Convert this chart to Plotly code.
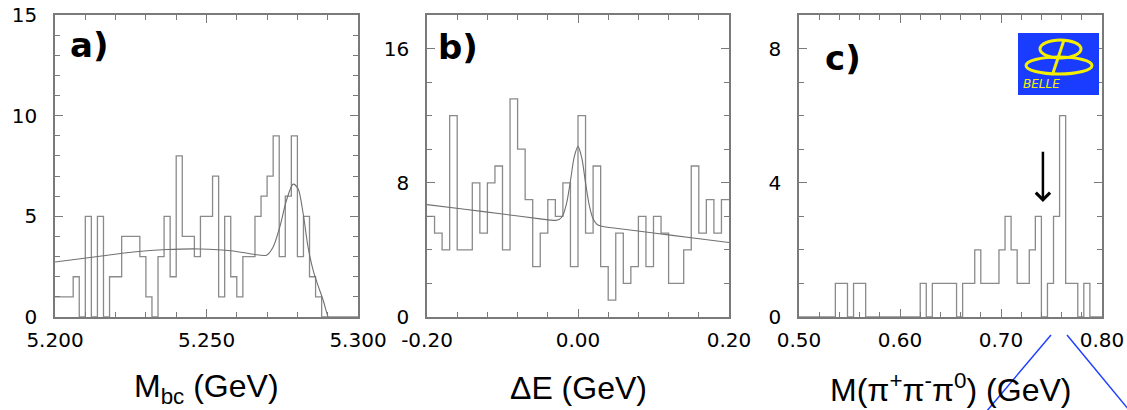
import numpy as np
import plotly.graph_objects as go

W, H = 1127, 410

# ---------------- data ----------------
# panel a: Mbc histogram (50 bins, 5.200-5.300 GeV)
mbc_lo, mbc_width = 5.200, 0.002
mbc_counts = [1, 1, 1, 2, 0, 5, 0, 5, 0, 2,
              2, 4, 4, 4, 3, 1, 0, 3, 5, 2,
              8, 4, 4, 3, 5, 5, 7, 1, 5, 2,
              1, 3, 3, 5, 6, 7, 9, 3, 6, 9,
              3, 5, 2, 1, 0, 0, 0, 0, 0, 0]
mbc_fit_x = [5.200, 5.2148, 5.2258, 5.2368, 5.2478, 5.2588, 5.2654, 5.2698,
             5.2720, 5.2742, 5.2764, 5.2786, 5.2802, 5.2819, 5.2835, 5.2852,
             5.2868, 5.2885, 5.2896, 5.2901]
mbc_fit_y = [2.73, 3.02, 3.23, 3.35, 3.38, 3.28, 3.12, 3.07,
             3.48, 4.48, 5.80, 6.60, 6.38, 5.14, 3.48, 2.32,
             1.57, 0.83, 0.25, 0.0]

# panel b: Delta E histogram (40 bins, -0.20-0.20 GeV)
de_lo, de_width = -0.20, 0.01
de_counts = [6, 5, 4, 12, 4, 4, 8, 5, 8, 9,
             4, 13, 10, 7, 3, 5, 7, 6, 8, 3,
             12, 5, 9, 3, 1, 5, 2, 3, 6, 3,
             6, 5, 2, 2, 4, 9, 5, 7, 5, 7]
de_fit_x = [-0.20, -0.15, -0.10, -0.05, -0.03, -0.025, -0.02, -0.015, -0.01, -0.005,
            0.0, 0.005, 0.01, 0.015, 0.02, 0.025, 0.03, 0.05, 0.10, 0.15, 0.20]
de_fit_y = [6.70, 6.42, 6.14, 5.85, 5.76, 5.81, 6.07, 6.80, 8.11, 9.54,
            10.17, 9.48, 7.99, 6.64, 5.85, 5.53, 5.42, 5.29, 5.01, 4.72, 4.44]

# panel c: M(pi+ pi- pi0) histogram (50 bins, 0.50-0.80 GeV)
m3_lo, m3_width = 0.50, 0.006
m3_counts = [0, 0, 0, 0, 0, 0, 1, 1, 0, 1,
             1, 0, 0, 0, 0, 0, 0, 0, 0, 0,
             1, 0, 1, 1, 1, 1, 0, 1, 1, 2,
             1, 1, 1, 2, 3, 2, 1, 1, 2, 3,
             0, 1, 3, 6, 1, 1, 0, 1, 0, 0]
m3_arrow_x = 0.7415
m3_arrow_tip, m3_arrow_tail = 3.43, 4.97

# tick labels
xa_vals, xa_text = [5.200, 5.250, 5.300], ["5.200", "5.250", "5.300"]
xb_vals, xb_text = [-0.20, 0.00, 0.20], ["-0.20", "0.00", "0.20"]
xc_vals, xc_text = [0.50, 0.60, 0.70, 0.80], ["0.50", "0.60", "0.70", "0.80"]
ya_vals = [0, 5, 10, 15]
yb_vals = [0, 8, 16]
yc_vals = [0, 4, 8]

titles = ["M<sub>bc</sub> (GeV)", "ΔE (GeV)", "M(π<sup>+</sup>π<sup>-</sup>π<sup>0</sup>) (GeV)"]
panel_labels = ["a)", "b)", "c)"]

# ---------------- figure ----------------
HIST_COL = "#8a8a8a"
FIT_COL = "#707070"
FRAME_COL = "#7a7a7a"

def px_x(p):
    return p / W

def px_y(p):
    return 1 - p / H

def step(lo, width, counts):
    n = len(counts)
    edges = lo + width * np.arange(n + 1)
    ys = list(counts) + [counts[-1]]
    return edges, ys

fig = go.Figure()

hists = [(mbc_lo, mbc_width, mbc_counts, "x", "y"),
         (de_lo, de_width, de_counts, "x2", "y2"),
         (m3_lo, m3_width, m3_counts, "x3", "y3")]
for lo, wd, cnt, xa, ya in hists:
    ex, ey = step(lo, wd, cnt)
    fig.add_trace(go.Scatter(x=ex, y=ey, mode="lines", line=dict(shape="hv", color=HIST_COL, width=1.3),
                             xaxis=xa, yaxis=ya, showlegend=False, hoverinfo="skip"))

fig.add_trace(go.Scatter(x=mbc_fit_x, y=mbc_fit_y, mode="lines",
                         line=dict(shape="spline", smoothing=0.8, color=FIT_COL, width=1.1),
                         xaxis="x", yaxis="y", showlegend=False))
fig.add_trace(go.Scatter(x=de_fit_x, y=de_fit_y, mode="lines",
                         line=dict(shape="spline", smoothing=0.8, color=FIT_COL, width=1.1),
                         xaxis="x2", yaxis="y2", showlegend=False))

xdoms = [(55 / W, 358 / W), (427 / W, 729 / W), (799 / W, 1102 / W)]
ydom = (px_y(317), px_y(15))

tickfont = dict(family="DejaVu Sans", size=20, color="black")

def xaxis(dom, rng, vals, text, minor_dtick, anchor):
    return dict(domain=list(dom), range=rng, anchor=anchor, automargin=False,
                tickmode="array", tickvals=vals, ticktext=text,
                ticks="inside", ticklen=8, tickwidth=1.2, tickcolor=FRAME_COL,
                minor=dict(ticks="inside", ticklen=5, tickwidth=1.2, tickcolor=FRAME_COL,
                           tickmode="linear", tick0=rng[0], dtick=minor_dtick, showgrid=False),
                showline=True, linecolor=FRAME_COL, linewidth=1.5, mirror="allticks",
                showgrid=False, zeroline=False, tickfont=tickfont, ticklabelstandoff=4)

def yaxis(rng, vals, minor_dtick, anchor):
    return dict(domain=list(ydom), range=rng, anchor=anchor, automargin=False,
                tickmode="array", tickvals=vals, ticktext=[str(v) for v in vals],
                ticks="inside", ticklen=8, tickwidth=1.2, tickcolor=FRAME_COL,
                minor=dict(ticks="inside", ticklen=5, tickwidth=1.2, tickcolor=FRAME_COL,
                           tickmode="linear", tick0=0, dtick=minor_dtick, showgrid=False),
                showline=True, linecolor=FRAME_COL, linewidth=1.5, mirror="allticks",
                showgrid=False, zeroline=False, tickfont=tickfont, ticklabelstandoff=12)

fig.update_layout(
    width=W, height=H, margin=dict(l=0, r=0, t=0, b=0, autoexpand=False),
    paper_bgcolor="white", plot_bgcolor="white", showlegend=False,
    xaxis=xaxis(xdoms[0], [5.200, 5.300], xa_vals, xa_text, 0.01, "y"),
    xaxis2=xaxis(xdoms[1], [-0.20, 0.20], xb_vals, xb_text, 0.04, "y2"),
    xaxis3=xaxis(xdoms[2], [0.50, 0.80], xc_vals, xc_text, 0.02, "y3"),
    yaxis=yaxis([0, 15], ya_vals, 1, "x"),
    yaxis2=yaxis([0, 18], yb_vals, 2, "x2"),
    yaxis3=yaxis([0, 9], yc_vals, 1, "x3"),
)

# axis titles
for (d0, d1), t in zip(xdoms, titles):
    fig.add_annotation(x=(d0 + d1) / 2, y=px_y(388), xref="paper", yref="paper", text=t, showarrow=False,
                       xanchor="center", yanchor="middle",
                       font=dict(family="Liberation Sans", size=32, color="black"))

# panel labels
for (lx, ly), t in zip([(68, 45), (436, 47), (823, 58)], panel_labels):
    fig.add_annotation(x=px_x(lx), y=px_y(ly), xref="paper", yref="paper", text="<b>" + t + "</b>",
                       showarrow=False, xanchor="left", yanchor="middle",
                       font=dict(family="DejaVu Sans", size=34, color="black"))

# arrow in panel c
fig.add_annotation(x=m3_arrow_x, y=m3_arrow_tip, ax=m3_arrow_x, ay=m3_arrow_tail, xref="x3", yref="y3",
                   axref="x3", ayref="y3", text="", showarrow=True, arrowhead=4, arrowsize=1.1,
                   arrowwidth=2.5, arrowcolor="black")

# Belle logo
fig.add_shape(type="rect", xref="paper", yref="paper", x0=px_x(1018), x1=px_x(1099), y0=px_y(95), y1=px_y(33),
              fillcolor="#1a3cff", line=dict(width=0))
fig.add_shape(type="circle", xref="paper", yref="paper", x0=px_x(1026), x1=px_x(1092), y0=px_y(74), y1=px_y(57),
              line=dict(color="#f5f000", width=3))
fig.add_shape(type="circle", xref="paper", yref="paper", x0=px_x(1040), x1=px_x(1081), y0=px_y(58), y1=px_y(40),
              line=dict(color="#f5f000", width=3))
fig.add_shape(type="line", xref="paper", yref="paper", x0=px_x(1053), x1=px_x(1064), y0=px_y(73), y1=px_y(40),
              line=dict(color="#f5f000", width=3))
fig.add_annotation(x=px_x(1062), y=px_y(84), xref="paper", yref="paper", text="<i>BELLE</i>", showarrow=False,
                   yanchor="middle", font=dict(family="DejaVu Sans", size=12, color="#f5f000"))

# stray blue lines
fig.add_shape(type="line", xref="paper", yref="paper", x0=px_x(1051), y0=px_y(335), x1=px_x(986), y1=px_y(412),
              line=dict(color="#2040ff", width=1.5))
fig.add_shape(type="line", xref="paper", yref="paper", x0=px_x(1067), y0=px_y(335), x1=px_x(1129), y1=px_y(410),
              line=dict(color="#2040ff", width=1.5))

fig.write_html("out.html", config={"displayModeBar": False},
               post_script="document.body.style.margin='0px';document.body.style.padding='0px';"
                           "document.body.style.overflow='hidden';")
